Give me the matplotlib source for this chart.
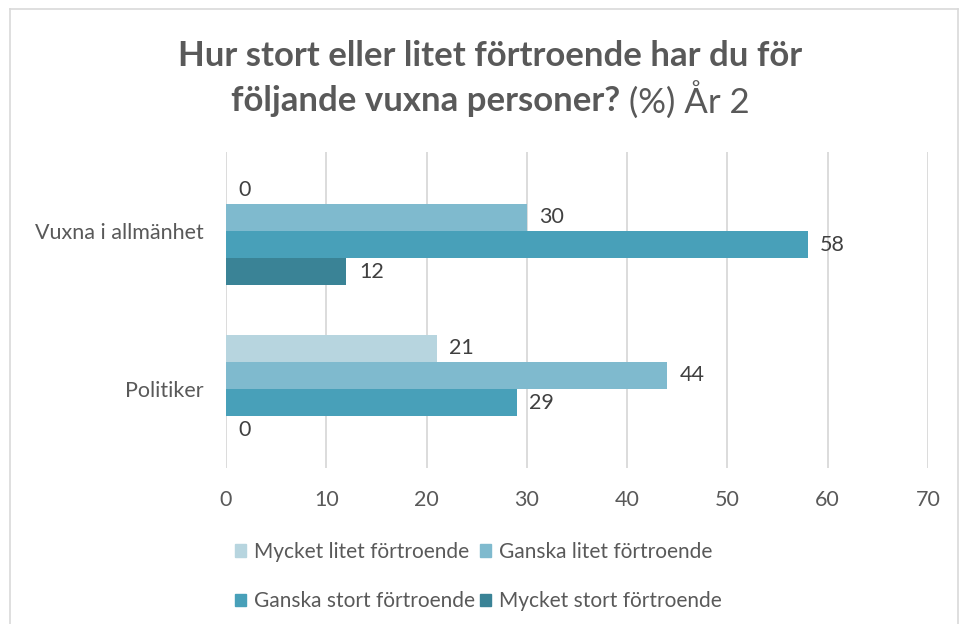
import matplotlib
matplotlib.use("Agg")
import matplotlib.pyplot as plt
from matplotlib.lines import Line2D
from matplotlib.patches import Patch

plt.rcParams['font.family'] = ['Lato', 'DejaVu Sans']

categories = ["Politiker", "Vuxna i allmänhet"]
series_names = ["Mycket litet förtroende", "Ganska litet förtroende",
                "Ganska stort förtroende", "Mycket stort förtroende"]
# values per series, in order [Politiker, Vuxna i allmänhet]
mycket_litet = [21, 0]
ganska_litet = [44, 30]
ganska_stort = [29, 58]
mycket_stort = [0, 12]
xticks = [0, 10, 20, 30, 40, 50, 60, 70]

colors = ["#b7d5df", "#7fbace", "#48a0b9", "#3a8396"]
txt = "#595959"

fig = plt.figure(figsize=(9.62, 6.24), dpi=100)
ax = fig.add_axes([226 / 962, 156 / 624, 702 / 962, 316 / 624])

h = 0.172
all_series = [mycket_litet, ganska_litet, ganska_stort, mycket_stort]
for i, vals in enumerate(all_series):
    ys = [c + (1.5 - i) * h for c in range(len(categories))]
    ax.barh(ys, vals, height=h, color=colors[i], linewidth=0, zorder=3)
    for y, v in zip(ys, vals):
        ax.annotate(str(v), (v, y), xytext=(9, 0), textcoords="offset points",
                    va="center", ha="left", fontsize=15.5, color="#404040")

ax.set_xlim(0, 70)
ax.set_ylim(-0.5, 1.5)
ax.set_xticks(xticks)
ax.set_yticks(range(len(categories)))
ax.set_yticklabels(categories)
ax.tick_params(axis="both", length=0, labelsize=15.5, labelcolor=txt)
ax.tick_params(axis="x", pad=16)
ax.tick_params(axis="y", pad=16)
ax.grid(axis="x", color="#d9d9d9", linewidth=1.3, zorder=0)
for s in ax.spines.values():
    s.set_visible(False)

# title, two lines, second line partly bold
fig.text(490 / 962, 1 - 56 / 624, "Hur stort eller litet förtroende har du för",
         ha="center", va="center", fontsize=25, fontweight="bold", color=txt)
fig.canvas.draw()
r = fig.canvas.get_renderer()
t1 = fig.text(0, 1 - 101 / 624, "följande vuxna personer?", ha="left", va="center",
              fontsize=25, fontweight="bold", color=txt)
t2 = fig.text(0, 1 - 101 / 624, " (%) År 2", ha="left", va="center",
              fontsize=25, color=txt)
w1 = t1.get_window_extent(r).width
w2 = t2.get_window_extent(r).width
x0 = 490 - (w1 + w2) / 2
t1.set_x(x0 / 962)
t2.set_x((x0 + w1) / 962)

# legend fills row by row
order = [0, 2, 1, 3]
handles = [Patch(color=colors[k]) for k in order]
labels = [series_names[k] for k in order]
fig.legend(handles, labels, loc="upper left", bbox_to_anchor=(235 / 962, 1 - 542 / 624),
           ncol=2, frameon=False, fontsize=15, labelcolor=txt, handlelength=0.55,
           handleheight=0.55, handletextpad=0.35, columnspacing=0.25, labelspacing=1.4,
           borderaxespad=0, borderpad=0)

# chart border
fig.add_artist(Line2D([10 / 962, 10 / 962], [0, 1 - 9 / 624], color="#d9d9d9", lw=1.2))
fig.add_artist(Line2D([10 / 962, 958 / 962], [1 - 9 / 624, 1 - 9 / 624], color="#d9d9d9", lw=1.2))
fig.add_artist(Line2D([958 / 962, 958 / 962], [0, 1 - 9 / 624], color="#d9d9d9", lw=1.2))

fig.savefig("out.png", dpi=100)
